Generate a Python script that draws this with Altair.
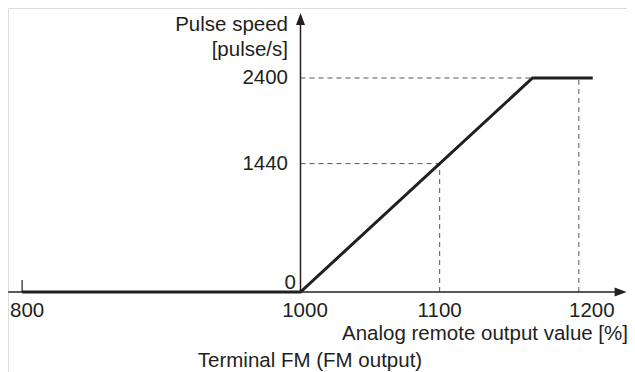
import altair as alt
import pandas as pd

# ---- data ----
line_x = [800, 1000, 1166.7, 1210]
line_y = [0, 0, 2400, 2400]
guide_x = [1100, 1200]
guide_y = [1440, 2400]
x_ticks = [800, 1000, 1100, 1200]
y_ticks = [0, 1440, 2400]
axis_x0 = 1000
x_axis_range = [790, 1228]
y_axis_range = [0, 3000]
arrow_up = [1000, 3061]
arrow_right = [1230, 0]

# ---- layout ----
W, H = 619, 364
FONT = "Liberation Sans"
FS = 20.5
INK = "#231f20"
xs = alt.Scale(domain=[789.85, 1234.6], nice=False, zero=False)
ys = alt.Scale(domain=[-897.2, 3185.0], nice=False, zero=False)

def X(f):
    return alt.X(f, type="quantitative", scale=xs, axis=None)

def Y(f):
    return alt.Y(f, type="quantitative", scale=ys, axis=None)

layers = []

# dashed guides
hg = pd.DataFrame({"x0": [axis_x0] * len(guide_x), "x1": guide_x, "y": guide_y})
layers.append(alt.Chart(hg).mark_rule(color="#555555", strokeWidth=1, strokeDash=[5, 4]).encode(
    x=X("x0"), x2="x1", y=Y("y")))
vg = pd.DataFrame({"x": guide_x, "y0": [0] * len(guide_x), "y1": guide_y})
layers.append(alt.Chart(vg).mark_rule(color="#555555", strokeWidth=1, strokeDash=[5, 4]).encode(
    x=X("x"), y=Y("y0"), y2="y1"))

# axes
xa = pd.DataFrame({"x0": [x_axis_range[0]], "x1": [x_axis_range[1]], "y": [0]})
layers.append(alt.Chart(xa).mark_rule(color=INK, strokeWidth=1.5).encode(x=X("x0"), x2="x1", y=Y("y")))
ya = pd.DataFrame({"x": [axis_x0], "y0": [y_axis_range[0]], "y1": [y_axis_range[1]]})
layers.append(alt.Chart(ya).mark_rule(color=INK, strokeWidth=1.5).encode(x=X("x"), y=Y("y0"), y2="y1"))
tk = pd.DataFrame({"x": [x_ticks[0]], "y0": [0], "y1": [135]})
layers.append(alt.Chart(tk).mark_rule(color=INK, strokeWidth=1.2).encode(x=X("x"), y=Y("y0"), y2="y1"))

# arrow heads
au = pd.DataFrame({"x": [arrow_up[0]], "y": [arrow_up[1]]})
layers.append(alt.Chart(au).mark_point(shape="M-0.75,1L0,-1L0.75,1Z", size=144, filled=True,
                                       color=INK, opacity=1).encode(x=X("x"), y=Y("y")))
ar = pd.DataFrame({"x": [arrow_right[0]], "y": [arrow_right[1]]})
layers.append(alt.Chart(ar).mark_point(shape="M-1,-0.75L1,0L-1,0.75Z", size=144, filled=True,
                                       color=INK, opacity=1).encode(x=X("x"), y=Y("y")))

# main line
ld = pd.DataFrame({"x": line_x, "y": line_y, "o": list(range(len(line_x)))})
layers.append(alt.Chart(ld).mark_line(color=INK, strokeWidth=3, strokeJoin="miter").encode(
    x=X("x"), y=Y("y"), order="o:Q"))

# x tick labels
x_dx = [5, 4.5, 0, 13]
for v, dx in zip(x_ticks, x_dx):
    d = pd.DataFrame({"x": [v], "y": [0], "t": [str(v)]})
    layers.append(alt.Chart(d).mark_text(font=FONT, fontSize=FS, color=INK, align="center",
                                         baseline="middle", dx=dx, dy=19.5).encode(
        x=X("x"), y=Y("y"), text="t:N"))

# y tick labels
y_dx = [-4.5, -12.5, -12.5]
y_dy = [-9, 0, 0]
for v, dx, dy in zip(y_ticks, y_dx, y_dy):
    d = pd.DataFrame({"x": [axis_x0], "y": [v], "t": [str(v)]})
    layers.append(alt.Chart(d).mark_text(font=FONT, fontSize=FS, color=INK, align="right",
                                         baseline="middle", dx=dx, dy=dy).encode(
        x=X("x"), y=Y("y"), text="t:N"))

# titles
def title(txt, px, py, align):
    d = pd.DataFrame({"t": [txt]})
    return alt.Chart(d).mark_text(font=FONT, fontSize=FS, color=INK, align=align,
                                  baseline="middle").encode(
        x=alt.value(px), y=alt.value(py), text="t:N")

layers.append(title("Pulse speed", 280, 17, "right"))
layers.append(title("[pulse/s]", 280, 42, "right"))
layers.append(title("Analog remote output value [%]", 620, 326, "right"))
layers.append(title("Terminal FM (FM output)", 302, 353, "center"))

chart = alt.layer(*layers).properties(
    width=W, height=H, autosize=alt.AutoSizeParams(type="none"), padding=0
).configure_view(stroke=None).configure(background="white")

chart.save("out.html", embed_options={"renderer": "svg", "actions": False})
